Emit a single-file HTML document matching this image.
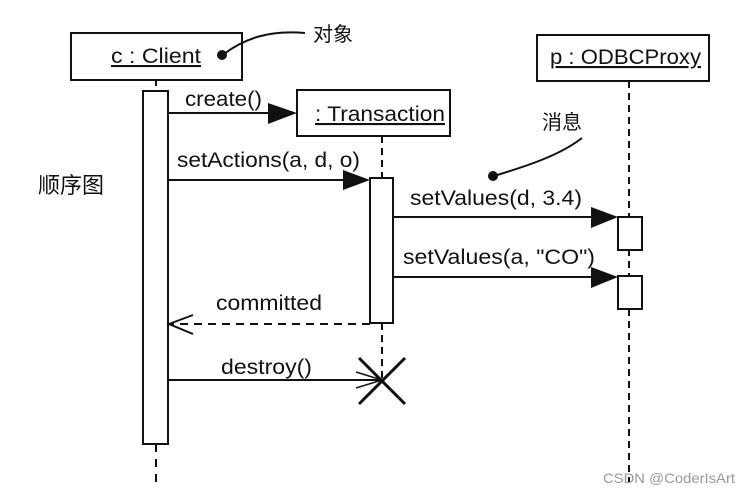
<!DOCTYPE html>
<html><head><meta charset="utf-8"><style>
html,body{margin:0;padding:0;background:#fff;width:751px;height:493px;overflow:hidden}
svg text{font-family:"Liberation Sans","Noto Sans CJK SC",sans-serif;fill:#111}
</style></head><body>
<svg width="751" height="493" viewBox="0 0 751 493" xmlns="http://www.w3.org/2000/svg">
<g stroke="#111" fill="none" stroke-width="2">
<rect x="71" y="33" width="171" height="47"/>
<line x1="156" y1="80" x2="156" y2="91" stroke-dasharray="6,5"/>
<rect x="143" y="91" width="25" height="353" fill="#fff"/>
<line x1="156" y1="444" x2="156" y2="482" stroke-dasharray="8,7"/>
<rect x="297" y="90" width="153" height="46"/>
<line x1="382" y1="136" x2="382" y2="178" stroke-dasharray="7,5"/>
<rect x="370" y="178" width="23" height="145" fill="#fff"/>
<line x1="382" y1="323" x2="382" y2="380" stroke-dasharray="7,5"/>
<rect x="537" y="35" width="172" height="46"/>
<line x1="629" y1="81" x2="629" y2="482" stroke-dasharray="7,5"/>
<rect x="618" y="217" width="24" height="33" fill="#fff"/>
<rect x="618" y="276" width="24" height="33" fill="#fff"/>
<line x1="168" y1="113" x2="270" y2="113"/>
<line x1="168" y1="180" x2="345" y2="180"/>
<line x1="393" y1="217" x2="592" y2="217"/>
<line x1="393" y1="277" x2="592" y2="277"/>
<line x1="370" y1="324" x2="170" y2="324" stroke-dasharray="8,6"/>
<polyline points="193,315 169,324 193,334"/>
<line x1="168" y1="380" x2="382" y2="380"/>
<polyline points="356,372 382,380 356,388" stroke-width="1.5"/>
<line x1="359" y1="358" x2="405" y2="404" stroke-width="3"/>
<line x1="405" y1="358" x2="359" y2="404" stroke-width="3"/>
<path d="M224,54 C245,38 270,30 305,33"/>
<path d="M494,176 C530,165 560,155 582,138"/>
</g>
<g fill="#111">
<polygon points="268,103 297,113 268,124"/>
<polygon points="343,170 370,180 343,190"/>
<polygon points="591,207 618,217 591,228"/>
<polygon points="591,267 618,277 591,288"/>
<circle cx="222" cy="55" r="5"/>
<circle cx="493" cy="176" r="5"/>
</g>
<g font-size="21">
<text x="111" y="63" textLength="90" lengthAdjust="spacingAndGlyphs" text-decoration="underline">c : Client</text>
<text x="315" y="121" textLength="130" lengthAdjust="spacingAndGlyphs" text-decoration="underline">: Transaction</text>
<text x="550" y="64" textLength="151" lengthAdjust="spacingAndGlyphs" text-decoration="underline">p : ODBCProxy</text>
<text x="185" y="106" textLength="77" lengthAdjust="spacingAndGlyphs">create()</text>
<text x="177" y="167" textLength="183" lengthAdjust="spacingAndGlyphs">setActions(a, d, o)</text>
<text x="410" y="205" textLength="172" lengthAdjust="spacingAndGlyphs">setValues(d, 3.4)</text>
<text x="403" y="264" textLength="192" lengthAdjust="spacingAndGlyphs">setValues(a, "CO")</text>
<text x="216" y="310" textLength="106" lengthAdjust="spacingAndGlyphs">committed</text>
<text x="221" y="374" textLength="91" lengthAdjust="spacingAndGlyphs">destroy()</text>
<text x="313" y="41" font-size="20">对象</text>
<text x="542" y="129" font-size="20">消息</text>
<text x="38" y="193" font-size="22">顺序图</text>
<text x="603" y="483" font-size="14" textLength="132" lengthAdjust="spacingAndGlyphs" style="fill:#999">CSDN @CoderIsArt</text>
</g>
</svg>
</body></html>
